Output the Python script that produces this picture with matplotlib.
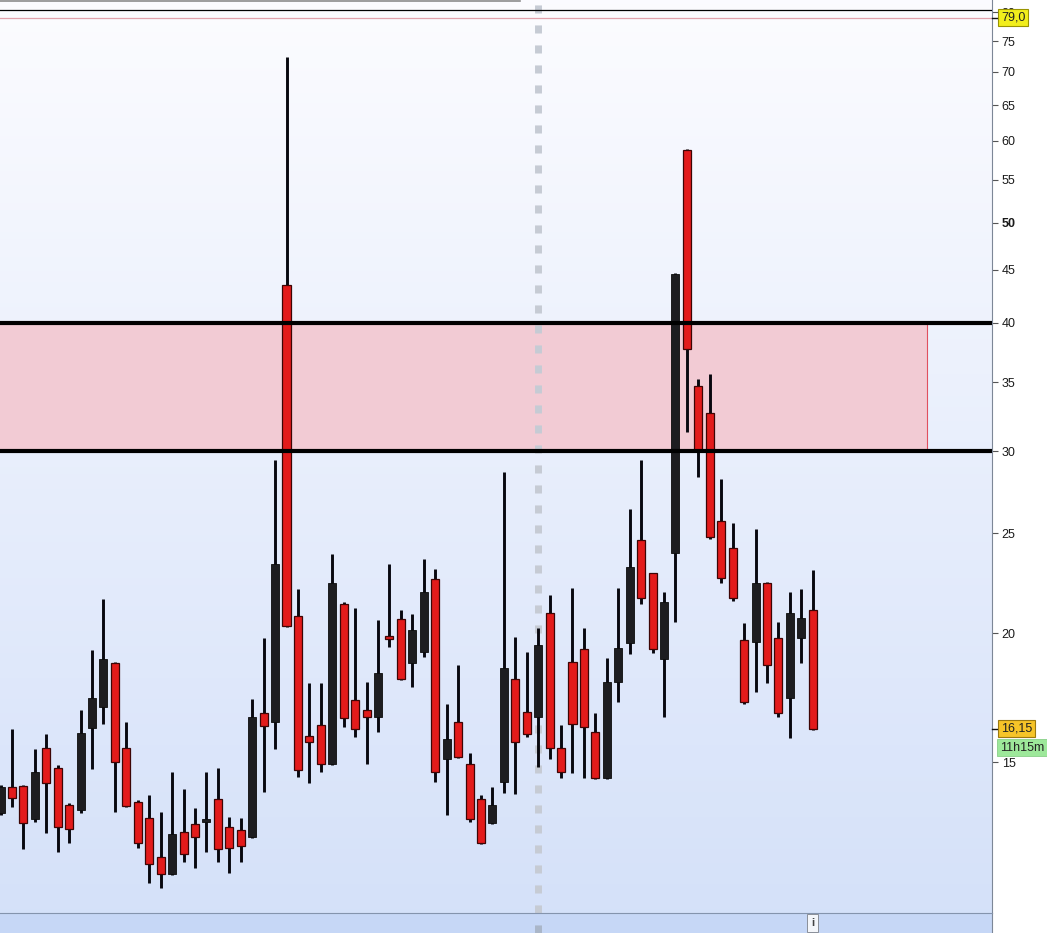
import numpy as np
import matplotlib.pyplot as plt
from matplotlib.patches import Rectangle
from matplotlib.lines import Line2D
from matplotlib.ticker import NullLocator
from matplotlib import transforms

plt.rcParams['font.family'] = ['Liberation Sans', 'DejaVu Sans']
plt.rcParams['lines.scale_dashes'] = False

# OHLC (log price axis)
opens = [13.39, 14.20, 14.22, 13.21, 15.48, 14.80, 13.63, 13.48, 16.18, 16.96,
         18.71, 15.48, 13.72, 13.24, 12.13, 11.68, 12.83, 13.06, 13.12, 13.81,
         12.97, 12.89, 12.69, 16.73, 16.40, 43.50, 20.78, 15.90, 16.29, 14.93,
         21.34, 17.23, 16.85, 16.58, 19.87, 20.64, 18.71, 19.17, 22.57, 15.10,
         16.40, 14.93, 13.81, 13.09, 14.35, 18.05, 16.77, 16.58, 20.92, 15.48,
         18.75, 19.30, 16.04, 14.47, 17.93, 19.56, 24.62, 22.87, 18.88, 23.91,
         58.80, 34.72, 32.69, 25.69, 24.18, 19.70, 19.61, 22.37, 19.78, 17.30,
         19.78, 21.06]
highs = [14.25, 16.15, 14.24, 15.44, 15.97, 14.90, 13.69, 16.85, 19.26, 21.58,
         18.75, 16.40, 13.78, 13.93, 13.42, 14.67, 14.12, 13.54, 14.67, 14.80,
         13.27, 13.24, 17.26, 19.78, 29.43, 72.40, 22.07, 17.89, 17.89, 23.86,
         21.44, 21.15, 17.93, 20.59, 23.34, 21.06, 20.87, 23.60, 23.08, 17.07,
         18.63, 15.30, 13.93, 14.19, 28.66, 19.83, 19.17, 20.23, 21.78, 16.29,
         22.12, 20.23, 16.73, 18.92, 22.12, 26.38, 29.43, 22.89, 21.92, 44.68,
         58.90, 35.27, 35.66, 28.21, 25.57, 20.46, 25.23, 22.40, 20.50, 21.92,
         22.07, 23.03]
lows = [13.33, 13.58, 12.35, 13.12, 12.80, 12.27, 12.52, 13.39, 14.77, 16.33,
        13.42, 13.57, 12.38, 11.45, 11.32, 11.66, 12.00, 11.84, 12.27, 12.00,
        11.71, 12.00, 12.67, 14.03, 15.44, 20.28, 14.51, 14.31, 14.67, 14.91,
        16.22, 15.86, 14.93, 16.04, 19.39, 18.03, 17.73, 18.96, 14.35, 13.33,
        15.15, 13.12, 12.49, 13.07, 14.00, 13.97, 15.86, 14.83, 15.10, 14.47,
        14.64, 14.47, 14.45, 14.45, 17.15, 19.09, 21.34, 19.13, 16.58, 20.50,
        31.33, 28.34, 24.68, 22.37, 21.49, 17.07, 17.54, 17.89, 16.58, 15.82,
        18.71, 16.10]
closes = [14.19, 13.83, 13.09, 14.67, 14.31, 12.97, 12.92, 16.00, 17.30, 18.88,
          15.00, 13.60, 12.52, 11.95, 11.68, 12.77, 12.22, 12.69, 13.21, 12.35,
          12.38, 12.43, 16.58, 16.26, 23.34, 20.32, 14.73, 15.69, 14.93, 22.37,
          16.55, 16.15, 16.58, 18.30, 19.74, 18.05, 20.14, 21.92, 14.67, 15.79,
          15.17, 13.21, 12.52, 13.63, 18.50, 15.69, 15.97, 19.48, 15.48, 14.67,
          16.33, 16.22, 14.47, 17.93, 19.35, 23.18, 21.63, 19.30, 21.44, 44.58,
          37.71, 30.10, 24.79, 22.62, 21.63, 17.15, 22.37, 18.63, 16.73, 20.92,
          20.68, 16.15]

yticks = [15, 20, 25, 30, 35, 40, 45, 50, 55, 60, 65, 70, 75, 80]
zone_low, zone_high = 30, 40
zone_end = 81.0          # candle index where the shaded zone stops
top_line = 80.4
alert_price = 79.0
last_price = 16.15
countdown = "11h15m"
countdown_level = 15.48
session_split = 47
info_at = 71.0


def main():
    fig = plt.figure(figsize=(10.47, 9.33), dpi=100)
    fig.patch.set_facecolor('white')

    ax = fig.add_axes([0, 20 / 933, 992 / 1047, 913 / 933])
    ax.set_yscale('log')
    ax.set_ylim(10.708, 82.19)
    ax.set_xlim(-0.044, 86.67)

    # background gradient
    top = np.array([0.988, 0.988, 1.0])
    bot = np.array([0.835, 0.883, 0.977])
    t = np.linspace(0, 1, 256)[:, None, None]
    grad = top * (1 - t) + bot * t
    ax.imshow(grad, extent=[0, 1, 0, 1], transform=ax.transAxes,
              aspect='auto', zorder=0)

    o = np.array(opens)
    h = np.array(highs)
    l = np.array(lows)
    c = np.array(closes)
    x = np.arange(len(o))
    up = c >= o

    # zone 30-40
    ax.add_patch(Rectangle((-2, zone_low), zone_end + 2, zone_high - zone_low,
                           facecolor='#f2cbd4', edgecolor='#e0505f', lw=0.8,
                           zorder=1))
    ax.axvline(session_split, color='#c6cbd4', lw=5, dashes=(5.8, 8.6),
               zorder=2)

    ax.vlines(x, l, h, color='#08080f', lw=2.1, zorder=3)
    ax.bar(x[up], (c - o)[up], bottom=o[up], width=0.7, color='#1d1d20',
           edgecolor='#0c0c0c', lw=0.6, zorder=4)
    ax.bar(x[~up], (o - c)[~up], bottom=c[~up], width=0.7, color='#e31b1b',
           edgecolor='#3d0505', lw=0.9, zorder=4)

    ax.axhline(zone_high, color='black', lw=3, zorder=6)
    ax.axhline(zone_low, color='black', lw=3, zorder=6)
    ax.axhline(top_line, color='black', lw=0.9, zorder=6)
    ax.axhline(alert_price, color='#e2a2ac', lw=0.9, zorder=6)

    for side in ['top', 'left', 'bottom']:
        ax.spines[side].set_visible(False)
    ax.spines['right'].set_color('#7d8797')
    ax.set_xticks([])
    ax.yaxis.tick_right()
    ax.set_yticks(yticks)
    ax.set_yticklabels([str(v) for v in yticks])
    ax.yaxis.set_minor_locator(NullLocator())
    ax.tick_params(axis='y', length=4, width=0.8, color='#555555',
                   labelsize=9, pad=3, labelcolor='#1a1a1a')
    for lbl in ax.get_yticklabels():
        if lbl.get_text() == '50':
            lbl.set_fontweight('bold')

    trans = transforms.blended_transform_factory(ax.transAxes, ax.transData)
    for lvl in [alert_price, last_price]:
        ax.plot([1.0, 1.007], [lvl, lvl], color='#111111', lw=1,
                transform=trans, clip_on=False, zorder=9)
    ax.text(1.009, alert_price, '79,0', transform=trans, va='center',
            ha='left', fontsize=9, color='#222222', zorder=10, clip_on=False,
            bbox=dict(boxstyle='square,pad=0.2', fc='#f2ee1c', ec='#9a9400',
                      lw=0.8))
    ax.text(1.009, last_price, '16,15', transform=trans, va='center',
            ha='left', fontsize=9, color='#222222', zorder=10, clip_on=False,
            bbox=dict(boxstyle='square,pad=0.2', fc='#f6c428', ec='#9c7a10',
                      lw=0.8))
    ax.text(1.008, countdown_level, countdown, transform=trans, va='center',
            ha='left', fontsize=9, color='#222222', zorder=10, clip_on=False,
            bbox=dict(boxstyle='square,pad=0.2', fc='#9de89a', ec='#8ad088',
                      lw=0.6))

    # lower strip
    ax2 = fig.add_axes([0, 0, 992 / 1047, 20 / 933])
    ax2.set_facecolor('#c6d7f6')
    ax2.set_xlim(-0.044, 86.67)
    ax2.set_ylim(0, 1)
    ax2.set_xticks([])
    ax2.set_yticks([])
    ax2.spines['left'].set_visible(False)
    ax2.spines['bottom'].set_visible(False)
    ax2.spines['top'].set_color('#8494ad')
    ax2.spines['right'].set_color('#7d8797')
    ax2.axvline(session_split, color='#aab6c8', lw=5, dashes=(5.8, 8.6))
    ax2.text(info_at, 0.5, 'i', ha='center', va='center', fontsize=8,
             fontweight='bold', color='#444444',
             bbox=dict(boxstyle='square,pad=0.35', fc='#f4f6fa',
                       ec='#8a8f99', lw=0.7))

    fig.add_artist(Line2D([0, 520 / 1047], [1 - 1 / 933, 1 - 1 / 933],
                          color='#8c8c8c', lw=1.2))

    fig.savefig('out.png', dpi=100)


if __name__ == '__main__':
    main()
